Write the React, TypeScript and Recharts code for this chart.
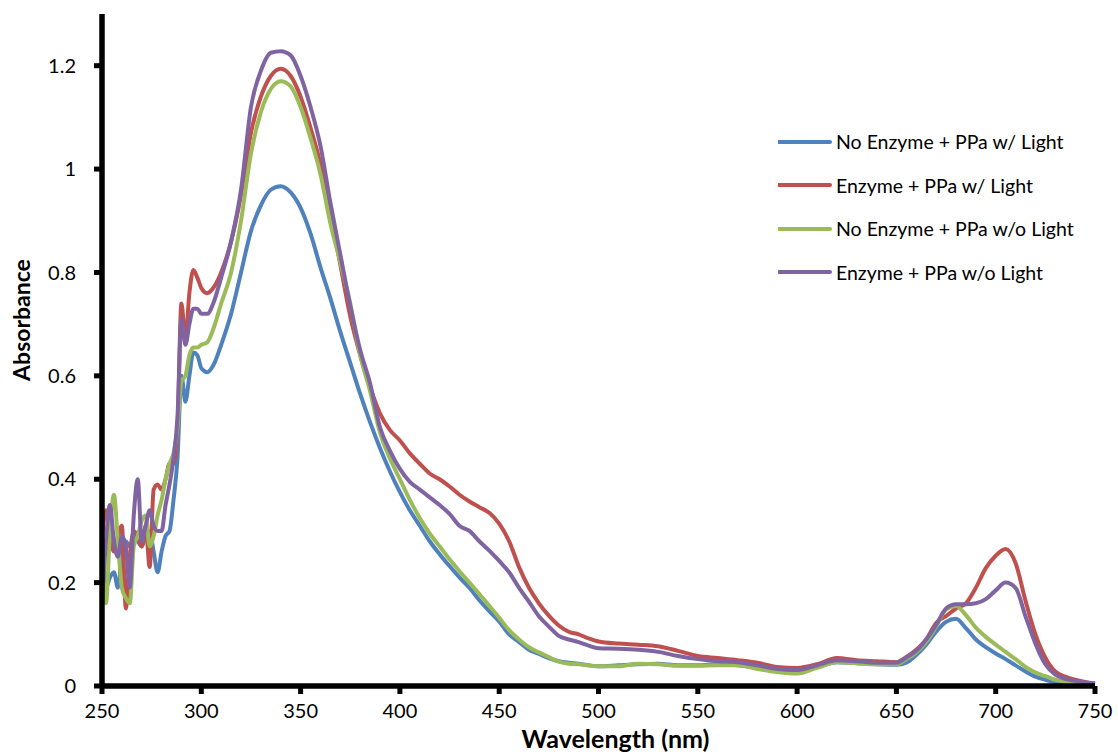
import React from 'react';
import { LineChart, Line, XAxis, YAxis, Legend, Label } from 'recharts';

const wavelengths = [250,252,254,256,258,260,262,264,266,268,270,272,274,276,278,280,282,284,286,288,290,292,294,296,298,300,303,306,310,315,320,325,330,335,340,345,350,355,360,365,370,375,380,385,390,395,400,405,410,415,420,425,430,435,440,445,450,455,460,465,470,475,480,485,490,495,500,510,520,530,540,550,560,570,580,590,600,610,620,630,640,650,655,660,665,670,675,680,685,690,695,700,705,710,715,720,725,730,735,740,745,750];

const noEnzymeLight = [0.27,0.19,0.21,0.22,0.19,0.25,0.28,0.27,0.29,0.28,0.27,0.29,0.30,0.26,0.22,0.26,0.29,0.30,0.36,0.44,0.60,0.55,0.60,0.645,0.64,0.615,0.607,0.62,0.66,0.72,0.80,0.88,0.93,0.96,0.967,0.955,0.925,0.875,0.81,0.75,0.685,0.625,0.565,0.51,0.46,0.415,0.375,0.34,0.31,0.28,0.255,0.232,0.21,0.19,0.166,0.145,0.125,0.10,0.085,0.07,0.062,0.054,0.048,0.045,0.043,0.04,0.038,0.04,0.042,0.043,0.04,0.04,0.042,0.04,0.036,0.03,0.028,0.036,0.046,0.044,0.042,0.041,0.045,0.06,0.08,0.105,0.124,0.13,0.112,0.09,0.075,0.063,0.052,0.04,0.028,0.018,0.012,0.007,0.005,0.004,0.004,0.003];

const enzymeLight = [0.29,0.34,0.29,0.26,0.29,0.31,0.15,0.25,0.30,0.29,0.27,0.31,0.23,0.38,0.39,0.38,0.40,0.43,0.43,0.50,0.74,0.67,0.76,0.805,0.79,0.77,0.76,0.77,0.80,0.86,0.95,1.07,1.14,1.18,1.194,1.18,1.14,1.08,1.01,0.915,0.815,0.715,0.64,0.578,0.527,0.495,0.475,0.45,0.43,0.411,0.40,0.386,0.37,0.357,0.346,0.335,0.314,0.28,0.23,0.19,0.16,0.136,0.117,0.105,0.10,0.092,0.086,0.082,0.08,0.077,0.068,0.058,0.054,0.05,0.045,0.037,0.035,0.042,0.054,0.05,0.048,0.046,0.056,0.07,0.09,0.122,0.135,0.15,0.16,0.19,0.228,0.252,0.265,0.238,0.165,0.10,0.055,0.028,0.018,0.012,0.008,0.005];

const noEnzymeDark = [0.24,0.16,0.30,0.37,0.28,0.19,0.17,0.16,0.27,0.29,0.32,0.33,0.27,0.29,0.33,0.36,0.40,0.43,0.45,0.50,0.59,0.60,0.64,0.655,0.655,0.66,0.665,0.69,0.74,0.80,0.90,1.03,1.11,1.155,1.17,1.16,1.12,1.06,0.99,0.895,0.82,0.74,0.64,0.57,0.49,0.44,0.40,0.36,0.325,0.295,0.27,0.245,0.222,0.20,0.178,0.155,0.132,0.108,0.09,0.075,0.065,0.056,0.047,0.043,0.042,0.04,0.038,0.038,0.043,0.042,0.039,0.039,0.04,0.04,0.033,0.027,0.024,0.035,0.046,0.044,0.042,0.042,0.052,0.065,0.085,0.115,0.148,0.155,0.137,0.113,0.095,0.08,0.066,0.052,0.037,0.026,0.019,0.012,0.008,0.006,0.005,0.004];

const enzymeDark = [0.16,0.28,0.35,0.28,0.25,0.29,0.27,0.19,0.33,0.40,0.28,0.31,0.34,0.31,0.30,0.30,0.35,0.39,0.44,0.52,0.71,0.66,0.70,0.73,0.73,0.72,0.72,0.74,0.79,0.86,0.96,1.12,1.19,1.225,1.228,1.22,1.18,1.12,1.045,0.935,0.835,0.736,0.65,0.585,0.50,0.455,0.42,0.395,0.38,0.365,0.35,0.333,0.31,0.30,0.28,0.262,0.242,0.22,0.19,0.163,0.135,0.115,0.097,0.09,0.085,0.078,0.073,0.072,0.07,0.066,0.058,0.052,0.048,0.046,0.04,0.033,0.031,0.04,0.05,0.048,0.045,0.045,0.055,0.068,0.09,0.118,0.15,0.158,0.158,0.16,0.168,0.185,0.20,0.19,0.135,0.082,0.042,0.022,0.014,0.01,0.007,0.005];

const xTicks = [250,300,350,400,450,500,550,600,650,700,750];
const yTicks = [0,0.2,0.4,0.6,0.8,1,1.2];

const seriesNames = ['No Enzyme + PPa w/ Light','Enzyme + PPa w/ Light','No Enzyme + PPa w/o Light','Enzyme + PPa w/o Light'];
const seriesColors = ['#4F81BD','#C0504D','#9BBB59','#8064A2'];

const data = wavelengths.map((nm, i) => ({
  nm,
  s0: noEnzymeLight[i],
  s1: enzymeLight[i],
  s2: noEnzymeDark[i],
  s3: enzymeDark[i],
}));

const FONT = 'Lato, "Open Sans", sans-serif';

const renderLegend = (props: any) => {
  const payload = [...(props.payload || [])].sort(
    (a: any, b: any) => seriesNames.indexOf(a.value) - seriesNames.indexOf(b.value)
  );
  return (
    <div style={{ fontFamily: FONT }}>
      {payload.map((e: any) => (
        <div key={e.value} style={{ display: 'flex', alignItems: 'center', height: 43.5 }}>
          <svg width={58} height={10} style={{ display: 'block' }}>
            <line x1={0} y1={5} x2={52} y2={5} stroke={e.color} strokeWidth={4} strokeLinecap="round" />
          </svg>
          <span style={{ fontSize: 19.5, color: '#000', whiteSpace: 'nowrap' }}>{e.value}</span>
        </div>
      ))}
    </div>
  );
};

export default function App() {
  return (
    <div style={{ position: 'absolute', left: 0, top: 0, width: 1118, height: 754, background: '#fff' }}>
      <LineChart
        width={1118}
        height={754}
        data={data}
        margin={{ top: 14, right: 23, left: 0, bottom: 0 }}
        style={{ fontFamily: FONT }}
      >
        <XAxis
          type="number"
          dataKey="nm"
          domain={[250, 750]}
          ticks={xTicks}
          height={68}
          axisLine={{ stroke: '#000', strokeWidth: 5.5 }}
          tickLine={{ stroke: '#000', strokeWidth: 5 }}
          tickSize={8}
          tickMargin={10}
          tick={{ fill: '#000', fontSize: 20, fontFamily: FONT }}
          interval={0}
        >
          <Label value="Wavelength (nm)" position="center" dx={17} dy={19} style={{ fontWeight: 'bold', fontSize: 25, fill: '#000', fontFamily: FONT }} />
        </XAxis>
        <YAxis
          type="number"
          domain={[0, 1.3]}
          ticks={yTicks}
          width={102}
          axisLine={{ stroke: '#000', strokeWidth: 5.5 }}
          tickLine={{ stroke: '#000', strokeWidth: 5 }}
          tickSize={8}
          tickMargin={18}
          tick={{ fill: '#000', fontSize: 20, fontFamily: FONT }}
          interval={0}
        >
          <Label value="Absorbance" angle={-90} position="center" dx={-29} dy={-30} style={{ fontWeight: 'bold', fontSize: 23, fill: '#000', fontFamily: FONT, textAnchor: 'middle' }} />
        </YAxis>
        <Legend
          layout="horizontal"
          verticalAlign="middle"
          align="center"
          wrapperStyle={{ top: 120, left: 778, width: 330 }}
          content={renderLegend}
        />
        {seriesNames.map((name, i) => (
          <Line
            key={name}
            type="monotone"
            dataKey={`s${i}`}
            name={name}
            stroke={seriesColors[i]}
            strokeWidth={4}
            dot={false}
            activeDot={false}
            isAnimationActive={false}
          />
        ))}
      </LineChart>
    </div>
  );
}
